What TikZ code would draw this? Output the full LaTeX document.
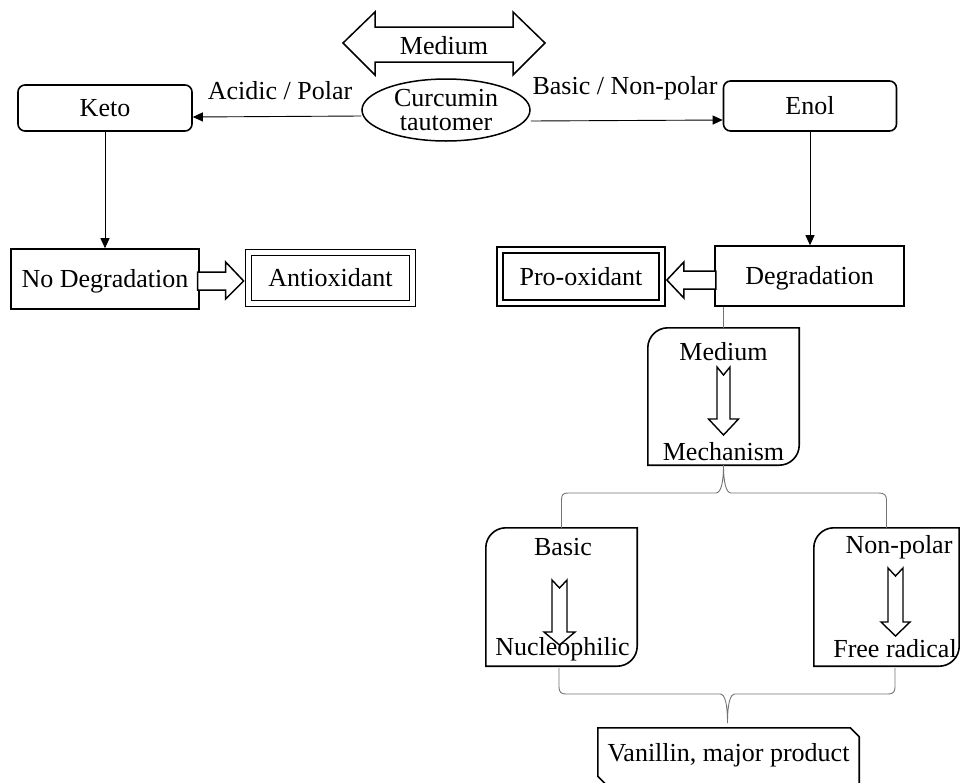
\documentclass[tikz,border=0pt]{standalone}
\usepackage{fontspec}
\setmainfont{Liberation Serif}
\usetikzlibrary{shapes.geometric,arrows.meta,calc}
\newcommand{\tlbrbox}[1]{%
  \draw[line width=1.6pt] (#1.south west) -- ([yshift=-20pt]#1.north west)
   .. controls ([yshift=-9pt]#1.north west) and ([xshift=9pt]#1.north west) .. ([xshift=20pt]#1.north west)
   -- (#1.north east) -- ([yshift=20pt]#1.south east)
   .. controls ([yshift=9pt]#1.south east) and ([xshift=-9pt]#1.south east) .. ([xshift=-20pt]#1.south east)
   -- cycle;}
% notched down arrow: cx, ytop, notch, ybase, ytip, half shaft, half head
\newcommand{\ntarrow}[7]{%
  \draw[line width=1.4pt, line join=miter] ({#1-#6},#2) -- (#1,{#2+#3}) -- ({#1+#6},#2) -- ({#1+#6},#4)
   -- ({#1+#7},#4) -- (#1,#5) -- ({#1-#7},#4) -- ({#1-#6},#4) -- cycle;}
\begin{document}
\begin{tikzpicture}[x=1pt,y=-1pt,
  fnt/.style={font=\fontsize{26}{24}\selectfont},
  txt/.style={fnt, inner sep=0pt, align=center},
  bx/.style={draw, line width=1.6pt, inner sep=0pt, fnt, text height=20pt, text depth=3pt},
  dbx/.style={draw, double, line width=1.7pt, double distance=4.5pt, inner sep=0pt, fnt, text height=20pt, text depth=3pt},
  conn/.style={line width=0.9pt, -{Triangle[length=10pt,width=9pt]}},
  blk/.style={draw, line width=1.5pt, fill=white, line join=miter},
  brc/.style={draw=black!55, line width=0.9pt},
  plain/.style={inner sep=0pt}]
\useasboundingbox (0,0) rectangle (960,782);

% top: curcumin tautomer
\draw[blk] (343,43) -- (375,12) -- (375,27) -- (513,27) -- (513,12) -- (545,43)
  -- (513,75) -- (513,62) -- (375,62) -- (375,75) -- cycle;
\node[txt] (medtop) at (444,46) {Medium};
\node[ellipse, draw, line width=1.5pt, minimum width=168pt, minimum height=62pt, txt] (curc) at (446,110) {Curcumin\\tautomer};

\node[bx, rounded corners=7pt, minimum width=174pt, minimum height=46pt] (keto) at (105,108) {Keto};
\node[bx, rounded corners=7pt, minimum width=173pt, minimum height=50pt] (enol) at (810,106) {Enol};

\node[txt] (lacid) at (280,91) {Acidic / Polar};
\node[txt] (lbasic) at (625,88) {Basic / Non-polar};
\draw[conn] ([yshift=-6pt]curc.west) -- ([yshift=-9pt]keto.east);
\draw[conn] ([yshift=-11pt]curc.east) -- ([yshift=-14pt]enol.west);

% left branch
\node[bx, minimum width=188pt, minimum height=60pt] (nodeg) at (105,279) {No Degradation};
\draw[conn] (keto.south) -- (nodeg.north);
\node[dbx, minimum width=164pt, minimum height=51pt] (antiox) at (330.5,278) {Antioxidant};
\draw[blk] ([xshift=-4pt,yshift=-3pt]antiox.west) -- ++(-18,-19) -- ++(0,10) -- ++(-28,0)
  -- ++(0,18) -- ++(28,0) -- ++(0,9) -- cycle;

% right branch
\node[bx, minimum width=189pt, minimum height=60pt] (degr) at (809.5,276) {Degradation};
\draw[conn] (enol.south) -- (enol.south |- degr.north);
\node[dbx, minimum width=162pt, minimum height=53pt] (proox) at (581,276.5) {Pro-oxidant};
\draw[blk] ([xshift=4pt,yshift=-3.5pt]proox.east) -- ++(17,-18) -- ++(0,9) -- ++(32,0)
  -- ++(0,18) -- ++(-32,0) -- ++(0,9) -- cycle;

% medium -> mechanism
\node[plain, minimum width=151pt, minimum height=137pt] (mech) at (723.5,396.5) {};
\tlbrbox{mech}
\draw[brc] (mech.north |- degr.south) -- (mech.north);
\node[txt] (mmed) at (723.5,352) {Medium};
\node[txt] (mmech) at (723.5,452) {Mechanism};
\ntarrow{723.5}{367}{8}{419}{435}{6.5}{15}

% basic / non-polar
\node[plain, minimum width=151pt, minimum height=138pt] (basic) at (561.5,597) {};
\tlbrbox{basic}
\node[txt] (tbasic) at (563,547) {Basic};
\node[txt] (tnuc) at (562.5,649) {Nucleophilic};
\ntarrow{559.5}{580}{8}{632}{645}{7.5}{15.5}

\node[plain, minimum width=145pt, minimum height=138pt] (nonpol) at (886.5,597) {};
\tlbrbox{nonpol}
\node[txt] (tnonpol) at (899,547) {Non-polar};
\node[txt] (tfree) at (895,649) {Free radical};
\ntarrow{895.5}{568}{8}{622}{636}{7.5}{14.5}

% top brace
\draw[brc] (basic.north) -- (561.5,500) .. controls (561.5,495) and (563,493) .. (568,493)
  -- (716,493) .. controls (721,493) and (723.5,482) .. (mech.south)
  .. controls (723.5,482) and (726,493) .. (731,493)
  -- (879,493) .. controls (884,493) and (886.5,495) .. (886.5,500) -- (nonpol.north);

% vanillin
\node[plain, minimum width=261pt, minimum height=56pt, fnt] (van) at (728.5,755) {Vanillin, major product};
\draw[line width=1.6pt] ([xshift=8pt,yshift=-1pt]van.south west) -- ([yshift=7pt]van.south west) -- ([yshift=-1pt]van.north west)
  -- ([xshift=-9pt,yshift=-1pt]van.north east) -- ([yshift=-10pt]van.north east) -- ([yshift=-1pt]van.south east);

% bottom brace
\draw[brc] ([xshift=-2.5pt,yshift=-2pt]basic.south) -- (559,687) .. controls (559,692) and (561,694) .. (566,694)
  -- (720,694) .. controls (725,694) and (727.5,704) .. (727.5,723)
  .. controls (727.5,704) and (730,694) .. (735,694)
  -- (888,694) .. controls (893,694) and (895,692) .. (895,687) -- ([xshift=8.5pt,yshift=-2pt]nonpol.south);
\end{tikzpicture}
\end{document}
